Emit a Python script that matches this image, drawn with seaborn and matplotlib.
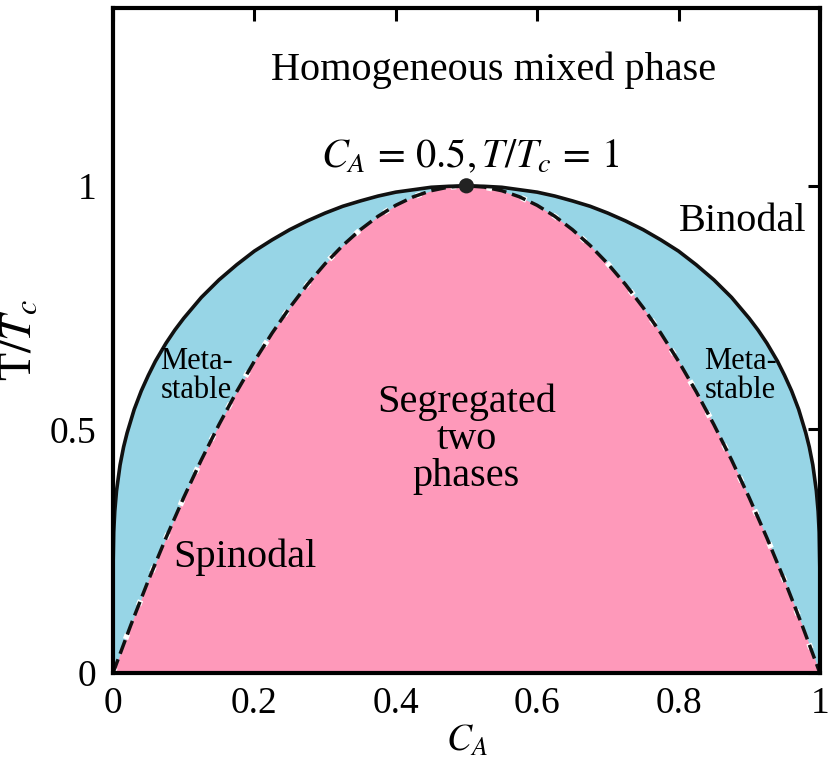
import numpy as np
import pandas as pd
import matplotlib
matplotlib.use("Agg")
import matplotlib.pyplot as plt
import seaborn as sns

# ---- data ----
binodal_x = [0.0, 0.0001, 0.001, 0.0025, 0.005, 0.01, 0.015, 0.02, 0.03, 0.04, 0.05, 0.06,
             0.075, 0.0875, 0.1, 0.125, 0.15, 0.175, 0.2, 0.225, 0.25, 0.275, 0.3, 0.325,
             0.35, 0.375, 0.4, 0.425, 0.45, 0.475, 0.5, 0.525, 0.55, 0.575, 0.6, 0.625,
             0.65, 0.675, 0.7, 0.725, 0.75, 0.775, 0.8, 0.825, 0.85, 0.875, 0.9, 0.9125,
             0.925, 0.94, 0.95, 0.96, 0.97, 0.98, 0.985, 0.99, 0.995, 0.9975, 0.999,
             0.9999, 1.0]
binodal_t = [0.0, 0.217, 0.289, 0.332, 0.374, 0.427, 0.464, 0.493, 0.541, 0.579, 0.611, 0.640,
             0.677, 0.704, 0.728, 0.771, 0.807, 0.838, 0.866, 0.889, 0.910, 0.928, 0.944, 0.958,
             0.969, 0.979, 0.987, 0.992, 0.997, 0.999, 1.0, 0.999, 0.997, 0.992, 0.987, 0.979,
             0.969, 0.958, 0.944, 0.928, 0.910, 0.889, 0.866, 0.838, 0.807, 0.771, 0.728, 0.704,
             0.677, 0.640, 0.611, 0.579, 0.541, 0.493, 0.464, 0.427, 0.374, 0.332, 0.289,
             0.217, 0.0]

spinodal_x = [0.0, 0.025, 0.05, 0.075, 0.1, 0.125, 0.15, 0.175, 0.2, 0.225, 0.25, 0.275, 0.3,
              0.325, 0.35, 0.375, 0.4, 0.425, 0.45, 0.475, 0.5, 0.525, 0.55, 0.575, 0.6, 0.625,
              0.65, 0.675, 0.7, 0.725, 0.75, 0.775, 0.8, 0.825, 0.85, 0.875, 0.9, 0.925, 0.95,
              0.975, 1.0]
spinodal_t = [0.0, 0.0975, 0.19, 0.2775, 0.36, 0.4375, 0.51, 0.5775, 0.64, 0.6975, 0.75, 0.7975,
              0.84, 0.8775, 0.91, 0.9375, 0.96, 0.9775, 0.99, 0.9975, 1.0, 0.9975, 0.99, 0.9775,
              0.96, 0.9375, 0.91, 0.8775, 0.84, 0.7975, 0.75, 0.6975, 0.64, 0.5775, 0.51, 0.4375,
              0.36, 0.2775, 0.19, 0.0975, 0.0]

critical_x = [0.5]
critical_t = [1.0]

x_ticks = [0, 0.2, 0.4, 0.6, 0.8, 1]
x_ticklabels = ["0", "0.2", "0.4", "0.6", "0.8", "1"]
y_ticks = [0, 0.5, 1]
y_ticklabels = ["0", "0.5", "1"]

sns.set_theme(style="white")
plt.rcParams["font.family"] = ["Liberation Serif", "DejaVu Serif"]
plt.rcParams["mathtext.fontset"] = "stix"
plt.rcParams["text.color"] = "black"
plt.rcParams["axes.labelcolor"] = "black"
plt.rcParams["xtick.color"] = "black"
plt.rcParams["ytick.color"] = "black"

bin_df = pd.DataFrame({"x": binodal_x, "t": binodal_t})
sp_df = pd.DataFrame({"x": spinodal_x, "t": spinodal_t})

fig = plt.figure(figsize=(8.29, 7.70), dpi=100)
ax = fig.add_axes([0.1363, 0.126, 0.8527, 0.8636])

blue = "#97d5e6"
pink = "#fe99ba"
ax.fill_between(binodal_x, 0, binodal_t, color=blue, lw=0, zorder=1)
ax.fill_between(spinodal_x, 0, spinodal_t, color=pink, lw=0, zorder=2)

sns.lineplot(data=bin_df, x="x", y="t", ax=ax, color="#111111", lw=2.6, sort=False,
             estimator=None, zorder=4)
# spinodal: white dots under black dashes
ax.plot(spinodal_x, spinodal_t, color="white", lw=4.0, ls=(0, (1.0, 5.5)), zorder=3)
sns.lineplot(data=sp_df, x="x", y="t", ax=ax, color="#111111", lw=2.5, sort=False,
             estimator=None, zorder=4, linestyle=(0, (4.2, 1.7)))

sns.scatterplot(x=critical_x, y=critical_t, ax=ax, color="#222222", s=120, zorder=6,
                edgecolor="none")

ax.set_xlim(0, 1)
ax.set_ylim(0, 1.365)
ax.set_xticks(x_ticks)
ax.set_xticklabels(x_ticklabels)
ax.set_yticks(y_ticks)
ax.set_yticklabels(y_ticklabels)
ax.tick_params(direction="in", length=9, width=2.2, labelsize=27, top=True, right=True,
               colors="black")
ax.tick_params(axis="x", pad=10)
ax.tick_params(axis="y", pad=12)
for sp in ax.spines.values():
    sp.set_linewidth(3)
    sp.set_color("black")
    sp.set_zorder(10)

ax.set_xlabel(r"$C_A$", fontsize=27, labelpad=2)
ax.set_ylabel(r"T$/T_c$", fontsize=33, labelpad=6)

fs = 29
ax.text(0.539, 1.238, "Homogeneous mixed phase", fontsize=fs, ha="center", va="center")
ax.text(0.505, 1.06, r"$C_A\,=\,0.5, T/T_c\,=\,1$", fontsize=fs, ha="center", va="center")
ax.text(0.891, 0.926, "Binodal", fontsize=fs, ha="center", va="center")
ax.text(0.118, 0.61, "Meta-\nstable", fontsize=22, ha="center", va="center",
        linespacing=1.0, zorder=7)
ax.text(0.887, 0.61, "Meta-\nstable", fontsize=22, ha="center", va="center",
        linespacing=1.0, zorder=7)
ax.text(0.50, 0.48, "Segregated\ntwo\nphases", fontsize=fs, ha="center", va="center",
        linespacing=1.0, zorder=7)
ax.text(0.187, 0.238, "Spinodal", fontsize=fs, ha="center", va="center", zorder=7)

fig.savefig("out.png", dpi=100)
